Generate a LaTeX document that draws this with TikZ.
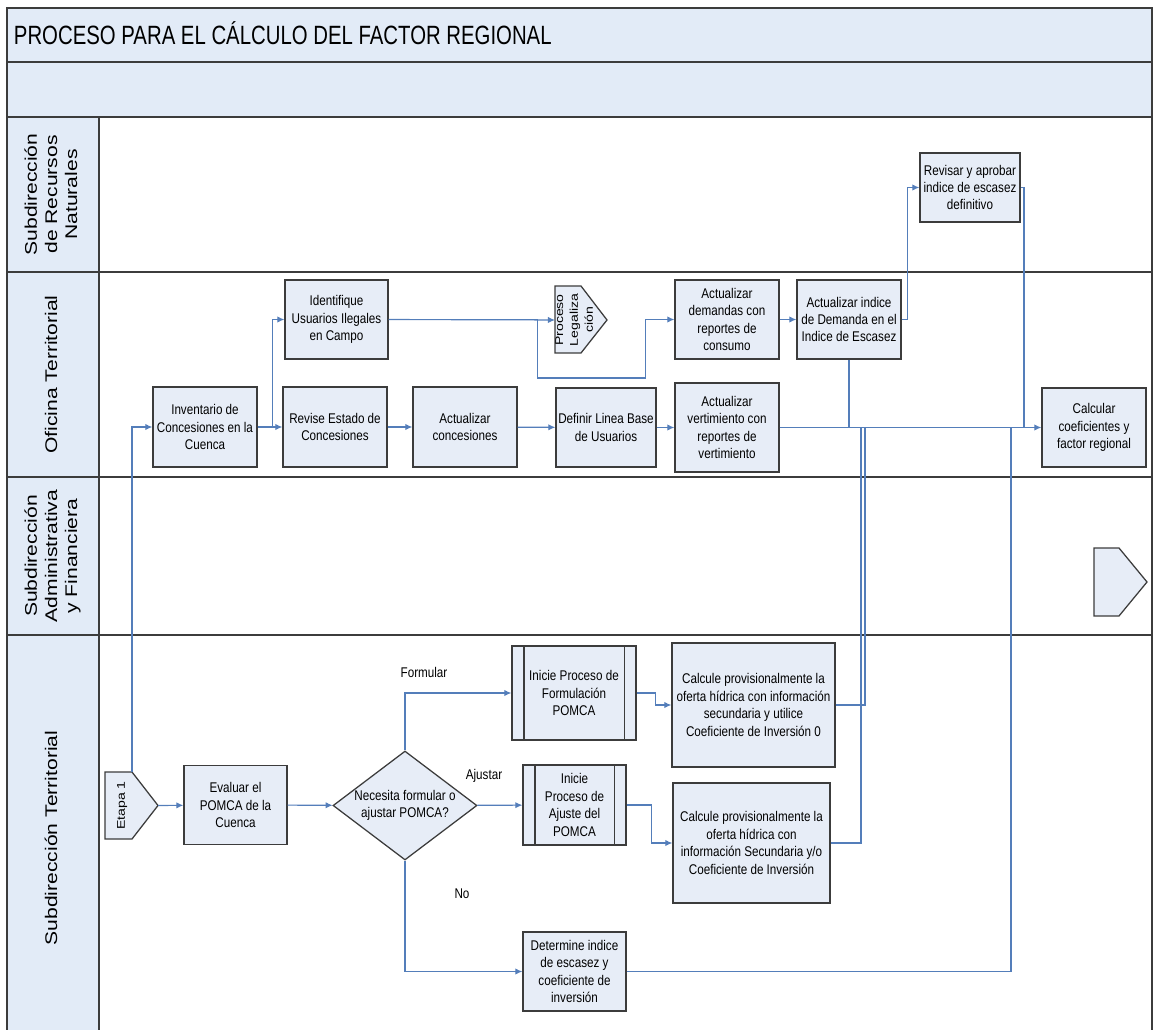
\documentclass[tikz,border=0pt]{standalone}
\usepackage{fontspec}
\setmainfont{Liberation Sans}[FakeStretch=0.83]
\newfontfamily\lanefont{Liberation Sans}
\newfontfamily\titlefont{Liberation Sans}[FakeStretch=0.77]
\usetikzlibrary{shapes.geometric,arrows.meta,calc}

\definecolor{boxfill}{RGB}{231,237,247}
\definecolor{bandfill}{RGB}{226,235,247}
\definecolor{edgegray}{RGB}{60,60,60}
\definecolor{flowblue}{RGB}{84,126,186}

\newcommand{\lanetext}[1]{\scalebox{1}[0.8]{\begin{tabular}{@{}c@{}}#1\end{tabular}}}

\tikzset{
  box/.style={draw=edgegray, line width=0.9pt, fill=boxfill, align=center, inner sep=1pt,
    font=\fontsize{10}{12.4}\selectfont},
  sz/.style 2 args={minimum width=#1*0.025cm, minimum height=#2*0.025cm},
  flow/.style={draw=flowblue, line width=0.8pt, -{Latex[length=5pt,width=4.5pt]}},
  link/.style={draw=flowblue, line width=0.8pt},
  pent/.style={draw=edgegray, line width=0.9pt, fill=boxfill},
  lane/.style={draw=edgegray, line width=1.1pt},
  lanename/.style={rotate=90, inner sep=0pt, font=\lanefont\fontsize{15}{17.8}\selectfont},
  smallname/.style={rotate=90, inner sep=0pt, font=\lanefont\fontsize{10}{13.3}\selectfont},
  answer/.style={font=\fontsize{10}{12}\selectfont}
}

\begin{document}
\begin{tikzpicture}[x=0.025cm, y=-0.025cm]
    \useasboundingbox (0,0) rectangle (1158,1030);

    % Pool and lanes
    \fill[bandfill] (7,8) rectangle (1152,117);
    \fill[bandfill] (7,117) rectangle (99,1030);
    \draw[lane] (7,1030) -- (7,8) -- (1152,8) -- (1152,1030);
    \draw[lane] (7,62) -- (1152,62);
    \foreach \y in {117,272,477,635}
        \draw[lane] (7,\y) -- (1152,\y);
    \draw[lane] (99,117) -- (99,1030);

    \node[anchor=west, font=\titlefont\fontsize{18.8}{21}\selectfont] (title) at (9,33) {PROCESO PARA EL CÁLCULO DEL FACTOR REGIONAL};
    \node[lanename] (recursos) at (53,194.5) {\lanetext{Subdirección\\de Recursos\\Naturales}};
    \node[lanename] (oficina) at (53,374.5) {\lanetext{Oficina Territorial}};
    \node[lanename] (admin) at (53,556) {\lanetext{Subdirección\\Administrativa\\y Financiera}};
    \node[lanename] (territorial) at (53,838) {\lanetext{Subdirección Territorial}};

    % Oficina Territorial and Recursos Naturales
    \node[box, sz={104}{80}] (inv) at (205,427) {Inventario de\\Concesiones en la\\Cuenca};
    \node[box, sz={103}{79}] (ident) at (336.5,319.5) {Identifique\\Usuarios Ilegales\\en Campo};
    \node[box, sz={104}{80}] (revise) at (335,427) {Revise Estado de\\Concesiones};
    \node[box, sz={104}{80}] (actc) at (465,427) {Actualizar\\concesiones};
    \node[box, sz={100}{79}] (linea) at (606,427.5) {Definir Linea Base\\de Usuarios};
    \node[box, sz={104}{79}] (actdem) at (727,319.5) {Actualizar\\demandas con\\reportes de\\consumo};
    \node[box, sz={104}{89}] (actver) at (727,427.5) {Actualizar\\vertimiento con\\reportes de\\vertimiento};
    \node[box, sz={104}{79}] (actind) at (849,319.5) {Actualizar indice\\de Demanda en el\\Indice de Escasez};
    \node[box, sz={100}{69}] (revisar) at (970,187.5) {Revisar y aprobar\\indice de escasez\\definitivo};
    \node[box, sz={104}{79}] (calc) at (1094,427.5) {Calcular\\coeficientes y\\factor regional};

    \draw[pent] (555,286) -- (581,286) -- (607,320) -- (581,353) -- (555,353) -- cycle;
    \node[smallname] (legal) at (575,320) {\lanetext{Proceso\\Legaliza\\ción}};
    \coordinate (legalin) at (555,320);

    % off-page shape in Administrativa y Financiera
    \draw[pent] (1094,548) -- (1119,548) -- (1147,582) -- (1119,616) -- (1094,616) -- cycle;

    % Subdireccion Territorial
    \draw[pent] (105,772) -- (132,772) -- (158,805.5) -- (132,839) -- (105,839) -- cycle;
    \node[smallname] (etapa) at (122,805.5) {\lanetext{Etapa 1}};
    \coordinate (etapatop) at (132,772);
    \coordinate (etapatip) at (158,805.5);

    \node[box, sz={103}{79}] (evaluar) at (235.5,805) {Evaluar el\\POMCA de la\\Cuenca};
    \node[box, diamond, shape aspect=1.32, inner sep=0pt, sz={144}{109}] (decide) at (405,805.5) {Necesita formular o\\ajustar POMCA?};
    \node[box, sz={124}{94}] (formul) at (574,693) {Inicie Proceso de\\Formulación\\POMCA};
    \node[box, sz={103}{80}] (ajuste) at (574.5,805) {Inicie\\Proceso de\\Ajuste del\\POMCA};
    \node[box, sz={103}{79}] (determ) at (574.5,971.5) {Determine indice\\de escasez y\\coeficiente de\\inversión};
    \node[box, sz={163}{124}] (calcuno) at (753.5,705) {Calcule provisionalmente la\\oferta hídrica con información\\secundaria y utilice\\Coeficiente de Inversión 0};
    \node[box, sz={157}{120}] (calcdos) at (751.5,843) {Calcule provisionalmente la\\oferta hídrica con\\información Secundaria y/o\\Coeficiente de Inversión};

    \foreach \n in {formul,ajuste} {
        \draw[edgegray, line width=0.9pt] ($(\n.north west)+(12.5,0)$) -- ($(\n.south west)+(12.5,0)$);
        \draw[edgegray, line width=0.9pt] ($(\n.north east)+(-12.5,0)$) -- ($(\n.south east)+(-12.5,0)$);
    }

    \node[answer] (lblform) at (424,672) {Formular};
    \node[answer] (lblajus) at (484,776) {Ajustar};
    \node[answer] (lblno) at (462,894) {No};

    % Junctions on the line to calc
    \coordinate (joinuno) at (865,427.5);
    \coordinate (joindos) at (861,427.5);
    \coordinate (joindet) at (1011,427.5);
    \coordinate (joinrev) at (1024,427.5);

    % Flow
    \draw[flow] (etapatop) |- (inv.west);
    \draw[flow] (inv) -- (revise);
    \draw[flow] (inv.east) -- ++(15,0) |- (ident.west);
    \draw[flow] (revise) -- (actc);
    \draw[flow] (actc) -- (linea);
    \draw[flow] (linea) -- (actver);
    \draw[flow] (ident.east) -- (legalin);
    \draw[flow] (ident.east) -- ++(149,0) -- ++(0,58.5) -- ++(108,0) |- (actdem.west);
    \draw[flow] (actdem) -- (actind);
    \draw[flow] (actind.east) -- ++(6,0) |- (revisar.west);
    \draw[flow] (actver.east) -- (calc.west);
    \draw[link] (actind.south) -- (actind.south |- actver.east);
    \draw[link] (revisar.east) -| (joinrev);

    \draw[flow] (etapatip) -- (evaluar);
    \draw[flow] (evaluar) -- (decide);
    \draw[flow] (decide.north) |- (formul.west);
    \draw[flow] (decide) -- (ajuste);
    \draw[flow] (decide.south) |- (determ.west);
    \draw[flow] (formul.east) -- ++(19,0) |- (calcuno.west);
    \draw[flow] (ajuste.east) -- ++(25,0) |- (calcdos.west);
    \draw[link] (calcuno.east) -| (joinuno);
    \draw[link] (calcdos.east) -| (joindos);
    \draw[link] (determ.east) -| (joindet);
\end{tikzpicture}
\end{document}
